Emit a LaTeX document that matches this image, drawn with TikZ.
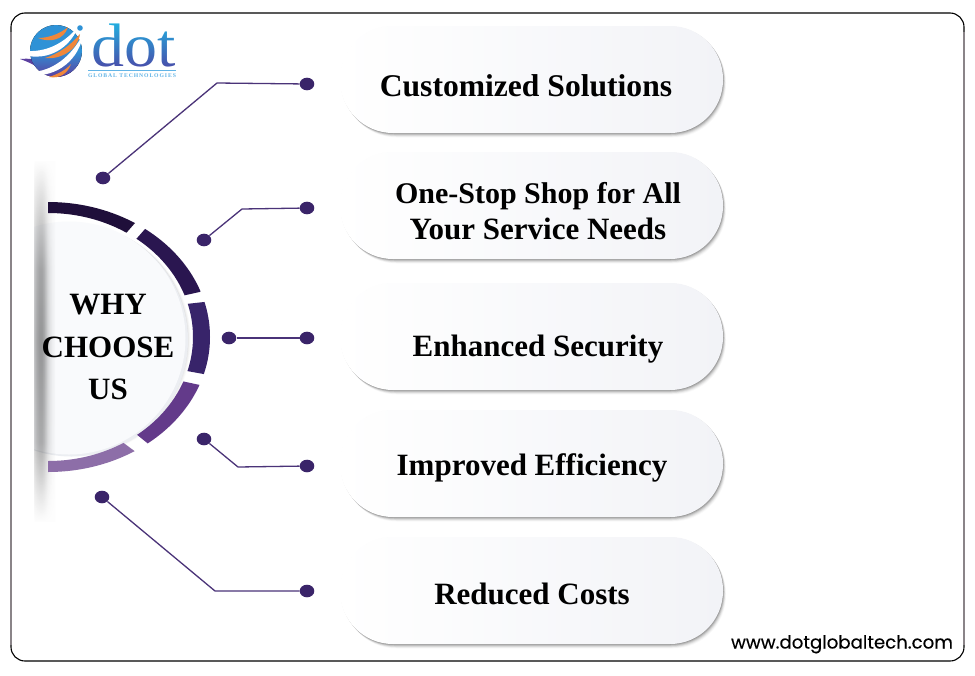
\documentclass[tikz,border=0pt]{standalone}
\usepackage{fontspec}
\usepackage{graphicx}
\usetikzlibrary{shapes.geometric,calc}
\setmainfont{Liberation Serif}
\newfontfamily\webfont[FakeBold=0.25]{Poppins}
\newfontfamily\logosmall[LetterSpace=16]{Liberation Serif}
\definecolor{dotc}{HTML}{3A2469}
\definecolor{linec}{HTML}{4A3378}
\definecolor{segA}{HTML}{1F0F3A}
\definecolor{segB}{HTML}{2A1650}
\definecolor{segC}{HTML}{38246A}
\definecolor{segD}{HTML}{633A8A}
\definecolor{segE}{HTML}{8D6EA8}
\definecolor{pillR}{HTML}{F2F3F7}
\definecolor{frameg}{HTML}{8A8488}
\definecolor{globeT}{HTML}{2F92D6}
\definecolor{globeB}{HTML}{5B3FA0}
\definecolor{orangec}{HTML}{F0873A}
\definecolor{logoT}{HTML}{22B0E0}
\definecolor{logoB}{HTML}{4A4AA8}
\definecolor{logoS}{HTML}{62B4E6}
\definecolor{discT}{HTML}{F9FAFC}
\definecolor{rimc}{HTML}{ECEEF2}
\pgfdeclareverticalshading{vprof}{100bp}{color(0bp)=(white); color(25bp)=(white); color(29bp)=(black!25); color(36bp)=(black!78); color(50bp)=(black); color(60bp)=(black!85); color(69bp)=(black!35); color(75bp)=(white); color(100bp)=(white)}
\tikzset{
  dotnode/.style={ellipse,fill=dotc,minimum width=14.6pt,minimum height=12.6pt,inner sep=0pt},
  conn/.style={draw=linec,line width=1.3pt},
  pillbox/.style={rectangle,rounded corners=53pt,minimum width=383pt,minimum height=107pt,inner sep=0pt,left color=white,right color=pillR},
  pilltext/.style={anchor=base,font=\fontsize{31}{34}\selectfont\bfseries,text=black},
  whytext/.style={anchor=base,font=\fontsize{31}{34}\selectfont\bfseries,text=black},
}
\newcommand\pillshadow[1]{%
  \foreach \d/\o in {6/.025,5/.04,4/.06,3/.08,2/.11,1/.14}
    \fill[black,opacity=\o,rounded corners=53pt] (340+\d*0.6,#1-53.5+\d*0.6) rectangle (723+\d*0.5,#1+53.5+\d*0.75);}
\newcommand\segment[2]{%
  \begin{scope}
    \clip #1 -- cycle;
    \fill[#2,even odd rule] (48,337) ellipse (162 and 135) (48,337) ellipse (145 and 124);
  \end{scope}}
\begin{document}
\begin{tikzpicture}[x=1pt,y=-1pt]
\useasboundingbox (0,0) rectangle (975,675);
\fill[white] (0,0) rectangle (975,675);
% frame
\draw[black,line width=1.1pt,rounded corners=14pt] (11,13) rectangle (964,661);
\draw[frameg,line width=1.6pt] (11,32) -- (11,645);
\draw[frameg,line width=1.6pt] (964,32) -- (964,645);
% logo: globe
\fill[globeB] (20,59) .. controls (30,58) and (38,60) .. (46,60) -- (50,72) .. controls (42,70) and (32,63) .. (20,59) -- cycle;
\fill[top color=globeT,bottom color=globeB,middle color=globeT] (56,51) circle (26);
\fill[orangec] (38,38) .. controls (48,38) and (60,34) .. (68,27) .. controls (64,40) and (50,43) .. (38,38) -- cycle;
\fill[orangec] (45,58) .. controls (58,54) and (70,46) .. (80,34) .. controls (78,50) and (60,60) .. (45,58) -- cycle;
\fill[orangec] (49,77) .. controls (58,74) and (66,70) .. (71,64) .. controls (68,73) and (60,79) .. (49,77) -- cycle;
\fill[white] (28,51) .. controls (50,52) and (68,40) .. (79,25) .. controls (72,44) and (54,60) .. (28,56) -- cycle;
\fill[white] (30,72) .. controls (52,72) and (72,56) .. (83,34) .. controls (80,58) and (58,78) .. (30,75) -- cycle;
\fill[globeT] (80,28) circle (2.8);
% logo: word
\node[anchor=base,inner sep=0pt,font=\fontsize{66}{66}\selectfont,text=black] (logoword) at (134,66.5) {\scalebox{1}[.93]{dot}};
\begin{scope}[blend mode=screen]
  \fill[top color=logoT,bottom color=logoB] (88,22) rectangle (180,69);
\end{scope}
\draw[logoS,line width=.9pt] (88,70.5) -- (176,70.5);
\node[anchor=base,inner sep=0pt,text=logoS,font=\fontsize{5.7}{6}\selectfont\logosmall\bfseries] (logosub) at (132,77.5) {GLOBAL TECHNOLOGIES};
% disc shadow and disc
\begin{scope}
  \clip (34,160) rectangle (230,520);
  \foreach \d/\o in {10/.012,9/.016,8/.02,7/.025,6/.03,5/.035,4/.04,3/.05,2/.055,1/.06}
    \fill[black,opacity=\o] (69+\d*.65,338+\d*.25) circle (115.5);
  \fill[rimc] (71.5,340) circle (116.5);
  \fill[discT] (69,338) circle (116.5);
\end{scope}
% left vertical shade (a column at a time, multiplied on what lies below)
\begin{scope}[blend mode=multiply]
\foreach \x/\o in {34/.22,35/.25,36/.29,37/.32,38/.34,39/.36,40/.37,41/.37,42/.36,43/.33,44/.30,45/.25,46/.21,47/.16,48/.13,49/.10,50/.08,51/.06,52/.04,53/.03,54/.02}
  \shade[shading=vprof,opacity=\o] (\x,160) rectangle (\x+1,522);
\end{scope}
% ring segments
\segment{(48,190) -- (142,215) -- (100,263) -- (48,263)}{segA}
\segment{(159,213) -- (222,287) -- (168,299) -- (117,261)}{segB}
\segment{(231,299) -- (231,379) -- (165,367) -- (168,306)}{segC}
\segment{(228,391) -- (167,459) -- (115,417) -- (158,376)}{segD}
\segment{(152,464) -- (98,424) -- (48,424) -- (48,490)}{segE}
% centre text
\node[whytext] (why1) at (108,314.5) {WHY};
\node[whytext] (why2) at (108,357) {CHOOSE};
\node[whytext] (why3) at (108,399) {US};
% pills
\pillshadow{79.5}
\node[pillbox] (p1) at (531.5,79.5) {};
\pillshadow{205.5}
\node[pillbox] (p2) at (531.5,205.5) {};
\pillshadow{336.5}
\node[pillbox] (p3) at (531.5,336.5) {};
\pillshadow{463.5}
\node[pillbox] (p4) at (531.5,463.5) {};
\pillshadow{590.5}
\node[pillbox] (p5) at (531.5,590.5) {};
\node[pilltext,font=\fontsize{31.6}{34}\selectfont\bfseries] (t1) at (526,96) {Customized Solutions};
\node[pilltext,font=\fontsize{30}{34}\selectfont\bfseries] (t2a) at (538,203.5) {One-Stop Shop for All};
\node[pilltext] (t2b) at (538,239.5) {Your Service Needs};
\node[pilltext] (t3) at (538,356) {Enhanced Security};
\node[pilltext] (t4) at (532,475.5) {Improved Efficiency};
\node[pilltext] (t5) at (532,604) {Reduced Costs};
% connectors
\node[dotnode] (a1) at (103,178) {};
\node[dotnode] (a2) at (204,240) {};
\node[dotnode] (a3) at (229,338) {};
\node[dotnode] (a4) at (204,439) {};
\node[dotnode] (a5) at (102,497) {};
\node[dotnode] (b1) at (307,84) {};
\node[dotnode] (b2) at (307,208) {};
\node[dotnode] (b3) at (307,338) {};
\node[dotnode] (b4) at (307,466) {};
\node[dotnode] (b5) at (307,591) {};
\coordinate (e1) at (217,83);
\coordinate (e2) at (242,209);
\coordinate (e4) at (238,467);
\coordinate (e5) at (215,591);
\draw[conn] (a1) -- (e1) -- (b1);
\draw[conn] (a2) -- (e2) -- (b2);
\draw[conn] (a3) -- (b3);
\draw[conn] (a4) -- (e4) -- (b4);
\draw[conn] (a5) -- (e5) -- (b5);
% website
\node[anchor=base,inner sep=0pt,text=black,font=\fontsize{18.15}{20}\selectfont\webfont] (web) at (842,648.5) {www.dotglobaltech.com};
\end{tikzpicture}
\end{document}
